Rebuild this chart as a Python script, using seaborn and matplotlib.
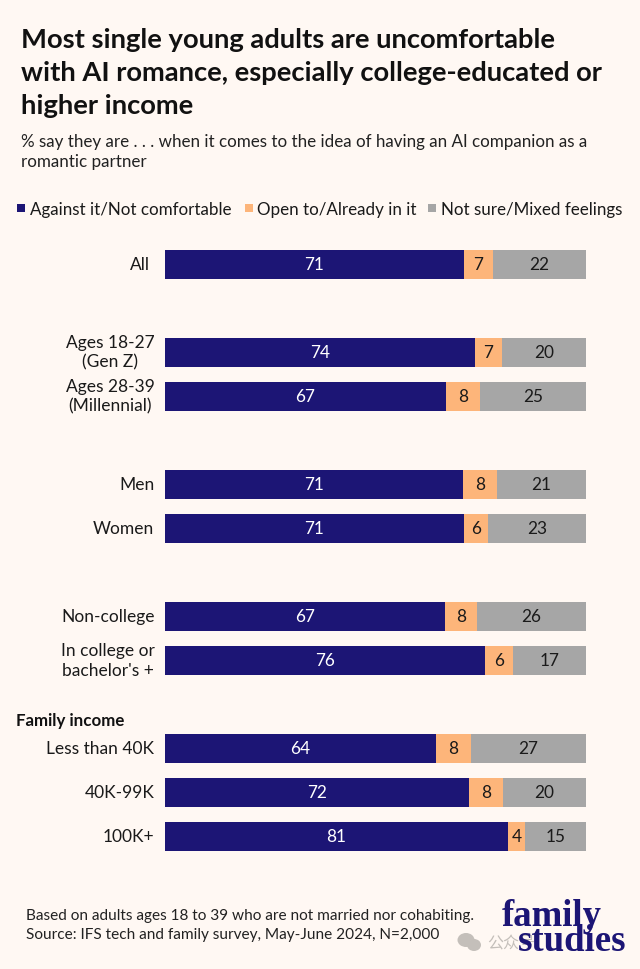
import matplotlib
matplotlib.use("Agg")
import matplotlib.pyplot as plt
import seaborn as sns
import pandas as pd
from matplotlib.patches import Rectangle, Ellipse

BG = "#FFF8F3"
NAVY = "#1C1575"
ORANGE = "#FDB57A"
GRAY = "#A6A6A6"

categories = ["All", " ", "Ages 18-27\n(Gen Z)", "Ages 28-39\n(Millennial)", "  ", "Men", "Women", "   ",
              "Non-college", "In college or\nbachelor's +", "    ", "Less than 40K", "40K-99K", "100K+"]
against = [71.0, None, 73.6, 66.7, None, 70.8, 71.0, None, 66.5, 76.0, None, 64.4, 72.2, 81.5]
open_to = [6.9, None, 6.4, 8.1, None, 8.1, 5.7, None, 7.6, 6.6, None, 8.3, 8.1, 4.0]
not_sure = [22.1, None, 20.0, 25.2, None, 21.1, 23.3, None, 25.9, 17.4, None, 27.3, 19.7, 14.5]
against_lab = ["71", "", "74", "67", "", "71", "71", "", "67", "76", "", "64", "72", "81"]
open_lab = ["7", "", "7", "8", "", "8", "6", "", "8", "6", "", "8", "8", "4"]
sure_lab = ["22", "", "20", "25", "", "21", "23", "", "26", "17", "", "27", "20", "15"]
series_names = ["Against it/Not comfortable", "Open to/Already in it", "Not sure/Mixed feelings"]

sns.set_theme(style="white")
plt.rcParams["font.family"] = ["Lato", "Noto Sans CJK SC", "DejaVu Sans"]

df = pd.DataFrame({"cat": categories, "a": against, "o": open_to, "s": not_sure}).astype({"a": float, "o": float, "s": float})
df["ao"] = df.a + df.o
df["aos"] = df.ao + df.s

W, H = 640, 970
fig = plt.figure(figsize=(W / 100, H / 100), dpi=100, facecolor=BG)
# axes spans 14 slots of 44 px, centred on rows from y=264.5 to y=836.5; x 165..586
ax = fig.add_axes([165 / W, 1 - 859 / H, 421 / W, 616 / H], facecolor=BG)
bw = 29 / 44
for col, c in [("aos", GRAY), ("ao", ORANGE), ("a", NAVY)]:
    sns.barplot(data=df, y="cat", x=col, color=c, width=bw, saturation=1, ax=ax, order=categories, linewidth=0)
ax.set_xlim(0, 100)
ax.set_ylim(13.5, -0.5)
ax.set_xlabel("")
ax.set_ylabel("")
ax.xaxis.set_visible(False)
sns.despine(ax=ax, left=True, bottom=True)
ax.tick_params(axis="y", length=0, pad=7.6)
ax.set_yticks(range(len(categories)))
ax.set_yticklabels(categories, fontsize=12.5, color="#1a1a1a", multialignment="center", linespacing=1.25)
ax.get_yticklabels()[0].set_x(-0.0095)  # "All" sits a little further from the bar
for lab in ax.get_yticklabels():
    lab.set_verticalalignment("center")

for i in range(len(categories)):
    if not against_lab[i]:
        continue
    a, o, s = against[i], open_to[i], not_sure[i]
    ax.text(a / 2, i, against_lab[i], ha="center", va="center", color="white", fontsize=12.4)
    ax.text(a + o / 2, i, open_lab[i], ha="center", va="center", color="#1a1a1a", fontsize=12.4)
    ax.text(a + o + s / 2, i, sure_lab[i], ha="center", va="center", color="#1a1a1a", fontsize=12.4)

def ftext(x, y, s, **kw):
    return fig.text(x / W, 1 - y / H, s, **kw)

for y, s in [(39.5, "Most single young adults are uncomfortable"),
             (73, "with AI romance, especially college-educated or"),
             (106.5, "higher income")]:
    ftext(21, y, s, fontsize=19.69, fontweight="bold", color="#111111", va="center")
for y, s in [(142, "% say they are . . . when it comes to the idea of having an AI companion as a"),
             (162, "romantic partner")]:
    ftext(21, y, s, fontsize=12.28, color="#222222", va="center")

# legend
for sx, tx, c, s in [(17, 30, NAVY, series_names[0]), (245, 257, ORANGE, series_names[1]), (428, 441, GRAY, series_names[2])]:
    fig.add_artist(Rectangle((sx / W, 1 - 213 / H), 8 / W, 8 / H, transform=fig.transFigure, color=c, lw=0))
    ftext(tx, 209.5, s, fontsize=12.26, color="#1a1a1a", va="center")

ftext(16, 721, "Family income", fontsize=12.2, fontweight="bold", color="#111111", va="center")

for y, s in [(916, "Based on adults ages 18 to 39 who are not married nor cohabiting."),
             (935, "Source: IFS tech and family survey, May-June 2024, N=2,000")]:
    ftext(26, y, s, fontsize=11.07, color="#222222", va="center")

# watermark, behind the logo
for cx, cy, ew, eh in [(466, 941, 17, 14), (474, 946, 14, 12)]:
    fig.add_artist(Ellipse((cx / W, 1 - cy / H), ew / W, eh / H, transform=fig.transFigure, color="#C4BFBA", lw=0))
ftext(487, 944, "公众号", fontsize=11.5, color="#C4BFBA", va="center", ha="left")

ftext(601.5, 917, "family", fontsize=26.5, fontweight="bold", family="Liberation Serif", color=NAVY, va="center", ha="right")
ftext(626, 942, "studies", fontsize=26.5, fontweight="bold", family="Liberation Serif", color=NAVY, va="center", ha="right")

fig.savefig("out.png", dpi=100, facecolor=BG)
